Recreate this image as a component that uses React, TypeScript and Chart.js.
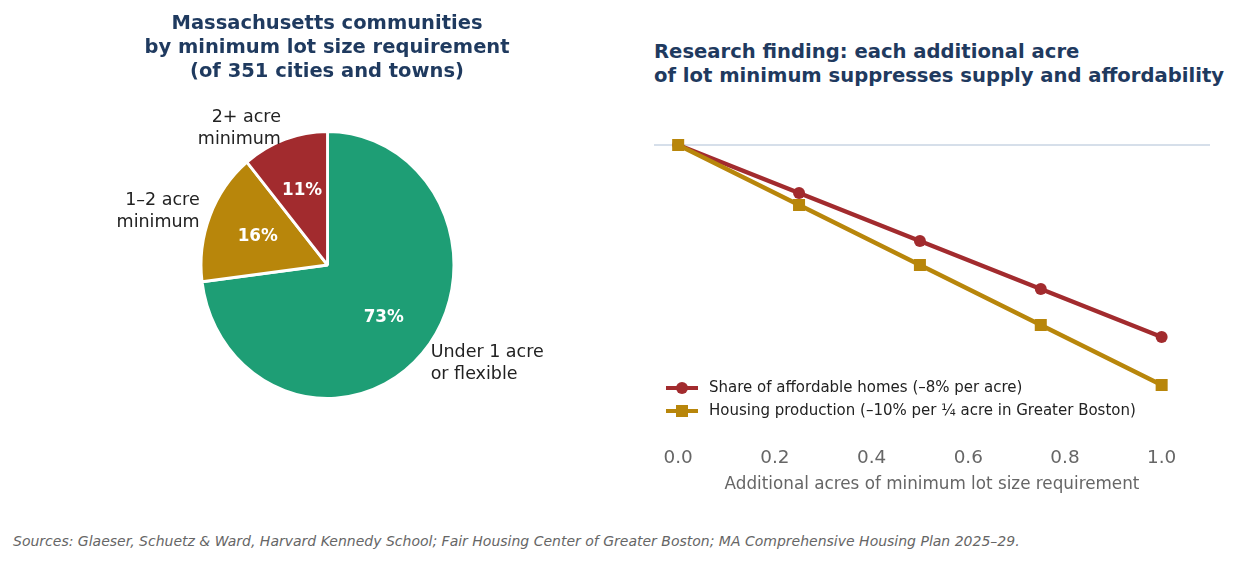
import React, { useEffect, useRef } from 'react';
import { Chart, registerables } from 'chart.js';

Chart.register(...registerables);

const FONT = "'DejaVu Sans', sans-serif";
const TITLE_COLOR = '#1F3A5F';

// ---- Pie data ----
const pieLabels = ['Under 1 acre\nor flexible', '1–2 acre\nminimum', '2+ acre\nminimum'];
const pieValues = [73, 16, 11];
const pieColors = ['#1E9E75', '#B8860B', '#A22B2E'];

// ---- Line data ----
const acres = [0, 0.25, 0.5, 0.75, 1.0];
const affordableChange = [0, -2, -4, -6, -8];
const productionChange = [0, -2.5, -5, -7.5, -10];
const xTickValues = [0, 0.2, 0.4, 0.6, 0.8, 1.0];
const seriesNames = [
  'Share of affordable homes (–8% per acre)',
  'Housing production (–10% per ¼ acre in Greater Boston)',
];
const seriesColors = ['#A22B2E', '#B8860B'];

const leftTitle = ['Massachusetts communities', 'by minimum lot size requirement', '(of 351 cities and towns)'];
const rightTitle = ['Research finding: each additional acre', 'of lot minimum suppresses supply and affordability'];
const xAxisTitle = 'Additional acres of minimum lot size requirement';
const sourceText =
  'Sources: Glaeser, Schuetz & Ward, Harvard Kennedy School; Fair Housing Center of Greater Boston; MA Comprehensive Housing Plan 2025–29.';

const SX = 0.947; // horizontal squish of the pie (reference pie is slightly elliptical)

const squishPlugin = {
  id: 'squish',
  beforeDatasetsDraw(chart: any) {
    const arc = chart.getDatasetMeta(0).data[0] as any;
    const ctx = chart.ctx;
    ctx.save();
    ctx.translate(arc.x, 0);
    ctx.scale(SX, 1);
    ctx.translate(-arc.x, 0);
  },
  afterDatasetsDraw(chart: any) {
    chart.ctx.restore();
  },
};

const pieLabelPlugin = {
  id: 'pieLabels',
  afterDraw(chart: any) {
    const ctx = chart.ctx;
    const meta = chart.getDatasetMeta(0);
    const total = pieValues.reduce((a, b) => a + b, 0);
    meta.data.forEach((el: any, i: number) => {
      const { x, y, startAngle, endAngle, outerRadius } = el.getProps(
        ['x', 'y', 'startAngle', 'endAngle', 'outerRadius'],
        true
      );
      const mid = (startAngle + endAngle) / 2;
      const R = outerRadius - 1.5;
      const c = Math.cos(mid);
      const s = Math.sin(mid);
      ctx.save();
      ctx.fillStyle = '#ffffff';
      ctx.font = `bold 16.8px ${FONT}`;
      ctx.textAlign = 'center';
      ctx.textBaseline = 'middle';
      ctx.fillText(`${Math.round((pieValues[i] / total) * 100)}%`, x + c * R * 0.6 * SX, y + s * R * 0.6 + 0.5);
      const lines = pieLabels[i].split('\n');
      ctx.fillStyle = '#222222';
      ctx.font = `17.5px ${FONT}`;
      ctx.textAlign = c >= 0 ? 'left' : 'right';
      const lx = x + c * R * 1.1 * SX;
      const ly = y + s * R * 1.1 + (s > 0.3 ? 2 : 0);
      const lh = 22;
      lines.forEach((t, j) => ctx.fillText(t, lx, ly + (j - (lines.length - 1) / 2) * lh));
      ctx.restore();
    });
  },
};

const zeroLinePlugin = {
  id: 'zeroLine',
  beforeDatasetsDraw(chart: any) {
    const { ctx, chartArea, scales } = chart;
    const y = scales.y.getPixelForValue(0);
    ctx.save();
    ctx.strokeStyle = '#C9D5E3';
    ctx.lineWidth = 1.5;
    ctx.beginPath();
    ctx.moveTo(chartArea.left, y);
    ctx.lineTo(chartArea.right, y);
    ctx.stroke();
    ctx.restore();
  },
};

const legendPlugin = {
  id: 'innerLegend',
  afterDraw(chart: any) {
    const { ctx, chartArea } = chart;
    const rows = [chartArea.bottom - 57, chartArea.bottom - 34];
    chart.data.datasets.forEach((ds: any, i: number) => {
      const y = rows[i];
      const x0 = chartArea.left + 12;
      const x1 = chartArea.left + 44;
      const xm = (x0 + x1) / 2;
      ctx.save();
      ctx.strokeStyle = ds.borderColor;
      ctx.fillStyle = ds.borderColor;
      ctx.lineWidth = 4;
      ctx.beginPath();
      ctx.moveTo(x0, y);
      ctx.lineTo(x1, y);
      ctx.stroke();
      if (ds.pointStyle === 'rect') {
        ctx.fillRect(xm - 6, y - 6, 12, 12);
      } else {
        ctx.beginPath();
        ctx.arc(xm, y, 6, 0, Math.PI * 2);
        ctx.fill();
      }
      ctx.fillStyle = '#222222';
      ctx.font = `15px ${FONT}`;
      ctx.textAlign = 'left';
      ctx.textBaseline = 'middle';
      ctx.fillText(ds.label, chartArea.left + 55, y);
      ctx.restore();
    });
  },
};

function PieChart() {
  const ref = useRef<HTMLCanvasElement | null>(null);
  useEffect(() => {
    if (!ref.current) return;
    const chart = new Chart(ref.current, {
      type: 'pie',
      data: {
        labels: pieLabels,
        datasets: [
          {
            data: pieValues,
            backgroundColor: pieColors,
            borderColor: '#ffffff',
            borderWidth: 3,
          },
        ],
      },
      options: {
        animation: false,
        responsive: false,
        maintainAspectRatio: false,
        layout: { padding: { left: 192.5, right: 177.5, top: 130, bottom: 120 } },
        plugins: { legend: { display: false }, tooltip: { enabled: false } },
      },
      plugins: [squishPlugin, pieLabelPlugin],
    } as any);
    return () => chart.destroy();
  }, []);
  return (
    <canvas
      ref={ref}
      width={640}
      height={520}
      style={{ position: 'absolute', left: 0, top: 0, width: 640, height: 520 }}
    />
  );
}

function LineChart() {
  const ref = useRef<HTMLCanvasElement | null>(null);
  useEffect(() => {
    if (!ref.current) return;
    const chart = new Chart(ref.current, {
      type: 'line',
      data: {
        datasets: [
          {
            label: seriesNames[0],
            data: acres.map((a, i) => ({ x: a, y: affordableChange[i] })),
            borderColor: seriesColors[0],
            backgroundColor: seriesColors[0],
            borderWidth: 4.5,
            pointStyle: 'circle',
            pointRadius: 6,
            pointBorderWidth: 0,
            order: 1,
          },
          {
            label: seriesNames[1],
            data: acres.map((a, i) => ({ x: a, y: productionChange[i] })),
            borderColor: seriesColors[1],
            backgroundColor: seriesColors[1],
            borderWidth: 4.5,
            pointStyle: 'rect',
            pointRadius: 8.5,
            pointBorderWidth: 0,
            order: 0,
          },
        ],
      },
      options: {
        animation: false,
        responsive: false,
        maintainAspectRatio: false,
        layout: { padding: { left: 10, right: 14, top: 14, bottom: 8 } },
        plugins: { legend: { display: false }, tooltip: { enabled: false } },
        scales: {
          x: {
            type: 'linear',
            min: -0.05,
            max: 1.1,
            grid: { display: false, drawTicks: false },
            border: { display: false },
            afterBuildTicks: (axis: any) => {
              axis.ticks = xTickValues.map((v) => ({ value: v }));
            },
            afterFit: (axis: any) => {
              axis.height = 54;
            },
            ticks: {
              color: '#666666',
              font: { size: 18.4, family: FONT },
              padding: 2,
              autoSkip: false,
              maxRotation: 0,
              callback: (v: any) => Number(v).toFixed(1),
            },
            title: {
              display: true,
              text: xAxisTitle,
              color: '#666666',
              font: { size: 16.8, family: FONT },
              padding: { top: 3, bottom: 4 },
            },
          },
          y: { display: false, min: -12.5, max: 1.5 },
        },
      },
      plugins: [zeroLinePlugin, legendPlugin],
    } as any);
    return () => chart.destroy();
  }, []);
  return (
    <canvas
      ref={ref}
      width={580}
      height={412}
      style={{ position: 'absolute', left: 644, top: 95, width: 580, height: 412 }}
    />
  );
}

export default function App() {
  Chart.defaults.font.family = FONT;
  return (
    <div
      style={{
        position: 'absolute',
        left: 0,
        top: 0,
        width: 1239,
        height: 563,
        background: '#ffffff',
        fontFamily: FONT,
        overflow: 'hidden',
      }}
    >
      <PieChart />
      <LineChart />
      <div
        style={{
          position: 'absolute',
          left: 7,
          top: 11,
          width: 640,
          textAlign: 'center',
          fontWeight: 'bold',
          fontSize: 19.5,
          lineHeight: '24px',
          color: TITLE_COLOR,
        }}
      >
        {leftTitle.map((t, i) => (
          <div key={i}>{t}</div>
        ))}
      </div>
      <div
        style={{
          position: 'absolute',
          left: 654,
          top: 40,
          whiteSpace: 'nowrap',
          fontWeight: 'bold',
          fontSize: 19.6,
          lineHeight: '24px',
          color: TITLE_COLOR,
        }}
      >
        {rightTitle.map((t, i) => (
          <div key={i}>{t}</div>
        ))}
      </div>
      <div
        style={{
          position: 'absolute',
          left: 13,
          top: 533,
          whiteSpace: 'nowrap',
          fontStyle: 'italic',
          fontSize: 14,
          lineHeight: '16px',
          color: '#666666',
        }}
      >
        {sourceText}
      </div>
    </div>
  );
}
